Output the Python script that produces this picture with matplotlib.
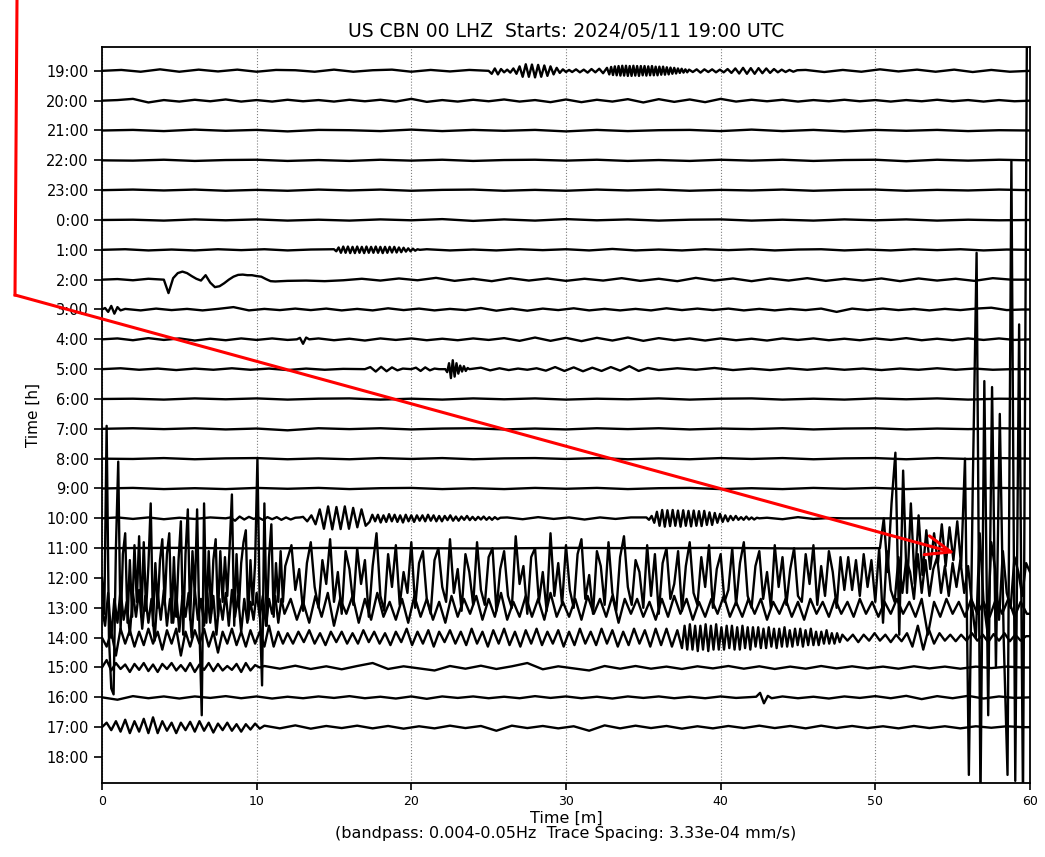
import matplotlib
matplotlib.use("Agg")
import matplotlib.pyplot as plt
from matplotlib.lines import Line2D

# hour labels of the 24 rows (top to bottom)
hours = ["19:00", "20:00", "21:00", "22:00", "23:00", "0:00", "1:00", "2:00",
         "3:00", "4:00", "5:00", "6:00", "7:00", "8:00", "9:00", "10:00",
         "11:00", "12:00", "13:00", "14:00", "15:00", "16:00", "17:00", "18:00"]
minute_ticks = [0, 10, 20, 30, 40, 50, 60]

# each trace: segments of (start minute, sample step in minutes, values in trace-spacing units)
tr_1900 = [
    (0.0, 1.25, [0, 0.03, -0.03, 0.05, -0.03, 0.04, -0.02, 0.04, -0.03, 0.03, 0.02, -0.03, 0.04, -0.03,
                 0.02, 0.04, -0.03, 0.03, -0.02, 0.03]),
    (25.0, 0.2, [0.0, -0.1, 0.08, -0.12, 0.06, -0.05, 0.04, -0.06, 0.08, -0.1, 0.15, -0.2, 0.22, -0.2,
                 0.21, -0.22, 0.2, -0.2, 0.18, -0.17, 0.15, -0.12, 0.1, -0.07, 0.05, -0.04, 0.03]),
    (30.4, 0.25, [-0.04, 0.05, -0.05, 0.04, -0.06, 0.06, -0.05, 0.07, -0.08, 0.1]),
    (32.8, 0.12, [-0.12, 0.13, -0.14, 0.15, -0.15, 0.16, -0.16, 0.17, -0.16, 0.17, -0.17, 0.16, -0.17, 0.17,
                  -0.16, 0.16, -0.17, 0.16, -0.15, 0.16, -0.16, 0.15, -0.15, 0.16, -0.15, 0.14, -0.15, 0.14,
                  -0.13, 0.14, -0.13, 0.12, -0.12, 0.11, -0.1, 0.1, -0.09, 0.08, -0.07, 0.07, -0.06, 0.05,
                  -0.05, 0.04]),
    (38.2, 0.25, [-0.04, 0.05, -0.06, 0.05, -0.04, 0.05, -0.05, 0.04, -0.05, 0.06, -0.07, 0.08, -0.09, 0.1,
                  -0.1, 0.09, -0.1, 0.09, -0.08, 0.08, -0.07, 0.06, -0.05, 0.04, -0.04, 0.03, -0.03, 0.02]),
    (45.5, 1.2, [0.03, -0.04, 0.03, -0.03, 0.05, -0.02, 0.04, -0.03, 0.04, -0.04, 0.03, -0.03, 0.0]),
]
tr_2000 = [
    (0.0, 1.0, [0, 0.02, 0.06, -0.06, 0.02, -0.03, 0.03, -0.02, 0.04, -0.03, 0.02, -0.03, 0.03, -0.02,
                0.02, -0.03, 0.03, -0.02, 0.03, -0.03, 0.06, -0.04, 0.02, -0.03, 0.03, -0.02, 0.04, -0.03,
                0.02, -0.05, 0.04, -0.05, 0.03, -0.03, 0.05, -0.06, 0.05, -0.04, 0.04, -0.05, 0.06, -0.03,
                0.03, -0.02, 0.03, -0.03, 0.02, -0.02, 0.03, -0.02, 0.02, -0.03, 0.02, -0.02, 0.03, -0.02,
                0.02, -0.03, 0.02, -0.02, 0.0]),
]
tr_2100 = [
    (0.0, 2.0, [0, 0.02, -0.02, 0.03, -0.01, 0.02, -0.03, 0.02, 0.01, -0.02, 0.03, -0.02, 0.02, -0.01,
                0.02, -0.03, 0.02, -0.02, 0.01, 0.02, -0.02, 0.03, -0.02, 0.02, -0.03, 0.02, -0.01, 0.02,
                -0.02, 0.01, 0.0]),
]
tr_2200 = [
    (0.0, 2.0, [0, -0.01, 0.02, -0.02, 0.01, 0.02, -0.02, 0.01, -0.02, 0.02, -0.01, 0.02, -0.02, 0.01,
                0.02, -0.01, 0.02, -0.02, 0.01, -0.02, 0.02, -0.01, 0.02, -0.02, 0.01, 0.02, -0.03, 0.02,
                -0.01, 0.02, 0.0]),
]
tr_2300 = [
    (0.0, 2.0, [0, 0.02, -0.01, 0.02, -0.02, 0.01, -0.02, 0.02, -0.01, 0.02, -0.02, 0.01, 0.02, -0.02,
                0.01, -0.02, 0.02, -0.01, 0.02, -0.02, 0.01, -0.01, 0.02, -0.02, 0.01, 0.02, -0.02, 0.01,
                -0.01, 0.02, 0.0]),
]
tr_0000 = [
    (0.0, 2.0, [0, 0.01, -0.02, 0.02, -0.01, 0.02, -0.02, 0.01, -0.02, 0.02, -0.01, 0.03, -0.03, 0.02,
                -0.02, 0.03, -0.01, 0.02, -0.02, 0.01, 0.02, -0.02, 0.01, -0.02, 0.02, -0.01, 0.02, -0.02,
                0.01, -0.01, 0.0]),
]
tr_0100 = [
    (0.0, 1.5, [0, 0.02, -0.02, 0.01, -0.02, 0.02, -0.01, 0.02, -0.02, 0.01]),
    (15.0, 0.15, [0.02, -0.05, 0.08, -0.1, 0.11, -0.1, 0.11, -0.11, 0.1, -0.11, 0.11, -0.1, 0.1, -0.11,
                  0.11, -0.1, 0.1, -0.1, 0.11, -0.1, 0.1, -0.11, 0.1, -0.1, 0.1, -0.09, 0.1, -0.09, 0.08,
                  -0.08, 0.07, -0.06, 0.05, -0.05, 0.04, -0.03, 0.02, 0.0]),
    (21.0, 1.5, [0.02, -0.02, 0.01, -0.02, 0.02, -0.01, 0.02, -0.02, 0.03, -0.02, 0.01, -0.02, 0.02,
                 -0.01, 0.02, -0.02, 0.01, 0.02, -0.02, 0.01, -0.02, 0.02, -0.01, 0.02, -0.02, 0.01, 0.0]),
]
tr_0200 = [
    (0.0, 1.0, [0, 0.02, -0.02, 0.03, 0.0]),
    (4.0, 0.3, [0.0, -0.45, 0.05, 0.22, 0.27, 0.22, 0.12, 0.03, -0.03, 0.15, -0.1, -0.25, -0.22, -0.12,
                0.0, 0.1, 0.16, 0.17, 0.15, 0.15, 0.12, 0.1, 0.02, -0.05, -0.06]),
    (12.0, 1.2, [-0.04, -0.03, -0.05, -0.02, 0.03, -0.03, 0.04, -0.02, 0.06, -0.04, 0.03, -0.05, 0.05,
                 -0.03, 0.04, -0.04, 0.03, -0.03, 0.05, -0.04, 0.03, -0.05, 0.06, -0.03, 0.04, -0.05,
                 0.04, -0.03, 0.05, -0.04, 0.03, -0.03, 0.04, -0.05, 0.04, -0.03, 0.03, -0.04, 0.05, 0.0]),
]
tr_0300 = [
    (0.0, 0.2, [0, 0.05, -0.08, 0.12, -0.14, 0.08, -0.03]),
    (1.5, 1.0, [0.02, -0.03, 0.03, -0.02, 0.02, -0.03, 0.02, 0.08, -0.03, 0.02, -0.02, 0.03, -0.02,
                0.03, -0.03, 0.02, -0.03, 0.04, -0.02, 0.03, -0.03, 0.02, -0.02, 0.05, -0.04, 0.03, -0.04,
                0.03, -0.02, 0.04, -0.03, 0.02, -0.03, 0.02, -0.03, 0.04, -0.02, 0.03, -0.02, 0.03, -0.03,
                0.02, -0.03, 0.02, -0.02, 0.03, -0.08, 0.03, -0.02, 0.03, -0.02, 0.02, -0.03, 0.02,
                -0.02, 0.03, 0.06, -0.02, 0.0]),
]
tr_0400 = [
    (0.0, 1.0, [0, 0.03, -0.03, 0.04, -0.02, 0.03, -0.04, 0.02, -0.03, 0.03, -0.02, 0.03, -0.02]),
    (12.6, 0.2, [0, 0.05, -0.15, 0.06, 0]),
    (14.0, 1.0, [0.03, -0.03, 0.02, -0.04, 0.03, -0.02, 0.03, -0.03, 0.02, -0.03, 0.03, -0.02, 0.04,
                 -0.05, 0.06, -0.05, 0.05, -0.06, 0.05, -0.04, 0.06, -0.05, 0.04, -0.03, 0.03, -0.04,
                 0.03, -0.03, 0.02, -0.04, 0.03, -0.02, 0.03, -0.03, 0.02, -0.03, 0.03, -0.02, 0.04,
                 -0.03, 0.02, -0.03, 0.03, -0.02, 0.03, -0.02, 0.0]),
]
tr_0500 = [
    (0.0, 1.2, [0, 0.03, -0.02, 0.02, -0.03, 0.02, -0.02, 0.03, -0.02, 0.02, -0.03, 0.02, -0.02, 0.01]),
    (17.0, 0.35, [0, 0.07, -0.08, 0.08, -0.07, 0.06, -0.04, 0.02]),
    (20.0, 0.3, [0, 0.05, -0.06, 0.06, -0.04, 0.02, 0.0]),
    (22.2, 0.12, [0, -0.1, 0.2, -0.3, 0.3, -0.25, 0.2, -0.15, 0.12, -0.08, 0.1, -0.06, 0.04, 0]),
    (24.5, 0.6, [0.05, -0.04, 0.03, -0.03, 0.02, -0.02, 0.03, -0.05, 0.07, -0.06, 0.06, -0.07, 0.05,
                 -0.06, 0.07, -0.05, 0.1, -0.06, 0.04]),
    (36.0, 1.2, [-0.03, 0.03, -0.02, 0.04, -0.03, 0.02, -0.03, 0.03, -0.02, 0.03, -0.02, 0.02, -0.03,
                 0.02, -0.02, 0.03, -0.02, 0.02, -0.02, 0.0]),
]
tr_0600 = [
    (0.0, 2.0, [0, 0.01, -0.02, 0.02, -0.01, 0.02, -0.02, 0.01, 0.02, -0.02, 0.01, -0.02, 0.02, -0.01,
                0.02, -0.02, 0.01, -0.01, 0.02, -0.02, 0.01, 0.02, -0.02, 0.01, -0.02, 0.02, -0.01,
                0.02, -0.02, 0.01, 0.0]),
]
tr_0700 = [
    (0.0, 2.0, [0, 0.02, -0.01, 0.02, -0.02, 0.01, -0.05, 0.02, -0.01, 0.02, -0.02, 0.01, 0.02, -0.02,
                0.01, -0.02, 0.02, -0.01, 0.02, -0.02, 0.01, -0.01, 0.02, -0.02, 0.01, 0.02, -0.02,
                0.01, -0.01, 0.02, 0.0]),
]
tr_0800 = [
    (0.0, 2.0, [0, -0.01, 0.02, -0.02, 0.01, 0.02, -0.02, 0.01, -0.02, 0.02, -0.01, 0.02, -0.02, 0.01,
                0.02, -0.01, 0.02, -0.02, 0.01, -0.02, 0.02, -0.01, 0.02, -0.02, 0.01, 0.02, -0.02,
                0.02, -0.01, 0.02, 0.0]),
]
tr_0900 = [
    (0.0, 2.0, [0, 0.02, -0.02, 0.01, -0.02, 0.02, -0.01, 0.02, -0.02, 0.01, 0.02, -0.02, 0.01, -0.02,
                0.02, -0.01, 0.02, -0.02, 0.01, 0.02, -0.02, 0.01, -0.02, 0.02, -0.01, 0.02, -0.02,
                0.01, -0.01, 0.02, 0.0]),
]
tr_1000 = [
    (0.0, 1.0, [0, 0.03, -0.02, 0.03, -0.03, 0.02, -0.02, 0.03]),
    (8.0, 0.3, [0, 0.03, -0.08, 0.06, -0.04, 0.05, -0.02, 0.03, -0.05, 0.04, -0.03, 0.04, -0.05, 0.03,
                -0.04, 0.02, 0.03]),
    (13.0, 0.27, [0.05, -0.1, 0.1, -0.2, 0.3, -0.35, 0.4, -0.37, 0.38, -0.36, 0.4, -0.35, 0.35, -0.3,
                  0.3, -0.25]),
    (17.3, 0.18, [-0.12, 0.12, -0.1, 0.12, -0.14, 0.1, -0.12, 0.14, -0.1, 0.12, -0.12, 0.1, -0.14, 0.12,
                  -0.1, 0.1, -0.12, 0.1, -0.08, 0.1, -0.1, 0.12, -0.08, 0.1, -0.1, 0.08, -0.1, 0.08,
                  -0.06, 0.1, -0.08, 0.06, -0.08, 0.06, -0.05, 0.08, -0.06, 0.05, -0.06, 0.05, -0.04,
                  0.06, -0.05, 0.04, -0.05, 0.04, -0.03, 0.02]),
    (26.2, 1.0, [0.03, -0.03, 0.04, -0.02, 0.03, -0.04, 0.03, -0.02, 0.03]),
    (35.2, 0.17, [0.03, -0.05, 0.08, -0.15, 0.22, -0.25, 0.28, -0.28, 0.27, -0.26, 0.28, -0.25, 0.26,
                  -0.28, 0.27, -0.25, 0.25, -0.27, 0.26, -0.25, 0.24, -0.26, 0.25, -0.22, 0.2, -0.22,
                  0.18, -0.15, 0.15, -0.12, 0.1, -0.1, 0.08, -0.06, 0.08, -0.05, 0.04, -0.05, 0.06,
                  -0.04, 0.03, -0.04, 0.02, 0.0]),
    (43.0, 1.0, [0.02, -0.03, 0.04, -0.02, 0.01]),
    (48.0, 4.0, [0.0, 0.0, 0.0, 0.0]),
]
tr_1100 = [
    (0.0, 5.0, [0, 0.01, -0.01, 0.01, 0.0, -0.01, 0.01, 0.0, 0.01, -0.01, 0.0]),
    (50.3, 0.25, [0.0, 1.0, -0.8, 1.5, 3.2, -2.9, 2.6, -1.5, 1.5, -1.2, 1.1, -0.9, 0.6, -0.7, 0.5, -0.5,
                  0.8, -0.6, 0.7, -0.4, 0.9, -0.6, 3.0, -7.6, 2.0, 9.9, -8.5, 5.6, -5.6, 5.4, -4.0, 4.5,
                  -3.0, -7.6, 13.0, -7.8, 7.5, -8.5, 17.0, 17.0]),
]
tr_1200 = [
    (0.0, 0.15, [0.0, -1.2, 5.1, -2.0, -3.7, -3.9, 1.0, 3.9, -1.8, 0.8, 1.5, -1.5, 0.6, -1.3, 1.1, -0.8,
                 1.4, -1.3, 1.2, -1.1, 0.4, 2.5, -1.6, 0.5, -1.0, 0.6, 1.3, -0.9, 0.8, 1.5, -1.5, 0.7,
                 -1.3, 0.6, 1.9, -1.9, 0.8, 2.3, -1.4, 0.9, -0.6, 2.3, -1.7, -4.6, 2.5, -1.5, 0.9, -1.2,
                 0.6, 1.3, -1.3, 0.9, -0.8, 0.7, -0.6, 1.0, 2.8, -1.6, 0.8, -1.0, 0.5, 1.2, 1.6, -1.4,
                 0.6, -0.9, 0.5, 4.0, -1.0, -3.6, 2.5, -1.6, 0.7, 1.8, -1.3, 0.5, -0.8, 0.9, -0.8, 0.4]),
    (12.25, 0.25, [1.1, -0.4, 0.3, -1.1, 0.5, 1.2, -0.3, -1.0, 0.6, -0.2, 1.3, -0.8, 0.2, -1.2, 0.9, 0.3,
                   -0.9, 1.0, -0.2, 0.6, -1.3, 0.4, 1.5, -0.6, -1.1, 0.8, -0.3, 1.1, -0.9, 0.2, -0.5, 1.2,
                   -1.0, 0.5, 0.9, -0.7, -1.2, 0.6, 1.0, -0.3, -0.8, 1.3, -0.5, 0.3, -1.1, 0.8, 0.2, -0.9,
                   1.2, -0.4, -0.9, 0.7, 1.0, -1.1, 0.3, 0.9, -0.6, -1.0, 1.4, -0.2, 0.4, -1.2, 0.7, 1.0,
                   -0.8, 0.2, -1.1, 1.5, -0.6, 0.5, -0.9, 1.1, -0.4, -1.0, 0.8, 1.3, -0.7, 0.1, -1.2, 0.9,
                   0.4, -0.9, 1.2, -0.5, -1.1, 0.7, 1.4, -0.3, -0.9, 0.6, 0.2, -1.0, 1.1, -0.6, 0.8, -1.2,
                   0.5, 1.0, -0.7, -0.2, 0.9, -1.1, 0.4, 1.2, -0.5, -0.9, 0.7, -0.3, 1.1, -1.0, 0.3, 0.8,
                   -0.8, -0.4, 1.0, -0.9, 0.5, 1.2, -0.6, -1.0, 0.4, 0.9, -0.7, 0.2, -1.0, 1.1, -0.3, 0.7,
                   -0.9, 0.3, 1.0, -0.6, -0.8, 0.8, -0.2, 1.1, -0.9, 0.4, -0.6, 0.9, 0.2, -1.0, 0.7, -0.4,
                   0.7, -0.4, 0.6, -0.6, 0.8, -0.3, 0.6, -0.8, 1.0, -1.5, 0.9, -0.4, -0.8, 0.7, -0.5, 0.6,
                   0.2, -0.7, 0.8, -0.5, 0.6, -0.6, 0.3, 0.7, -0.5, 0.4, -0.6, 0.5, -0.3, 0.6, -0.5, 0.4,
                   -0.9, -2.0, 1.5, -0.8, -1.8, 1.2, 0.3, -1.4, 0.9, -0.5, -1.0, 0.7, 0.2, -0.6, 0.5, 0.2]),
]
tr_1300 = [
    (0.0, 0.2, [0, -0.6, 0.5, -1.0, 0.3, -0.5, 0.6, -0.4, 0.2, -0.9, 0.5, -0.3, 0.6, -0.7, 0.4, -0.5,
                0.3, -1.1, 0.5, -0.4, 0.6, -0.6, 0.3, -0.5, 0.5, -0.8, 0.4, -0.3, 0.5, -1.0, 0.6, -0.4,
                0.3, -0.6, 0.5, -0.5, 0.4, -0.9, 0.3, -0.4, 0.5, -0.6, 0.6, -0.3, 0.4, -0.8, 0.3, -0.5,
                0.2, -0.4, 0.5, -0.3, 0.4, -0.6, 0.3, -0.2, 0.4, -0.5, 0.3, -0.2]),
    (12.2, 0.4, [0.3, -0.4, 0.2, -0.5, 0.4, -0.3, 0.5, -0.6, 0.3, -0.2, 0.4, -0.5, 0.3, -0.4, 0.5, -0.3,
                 0.2, -0.4, 0.3, -0.5, 0.4, -0.3, 0.3, -0.4, 0.2, -0.5, 0.4, -0.3, 0.3, -0.2, 0.4, -0.4,
                 0.3, -0.3, 0.5, -0.4, 0.2, -0.3, 0.4, -0.3, 0.3, -0.4, 0.5, -0.3, 0.2, -0.3, 0.3, -0.4,
                 0.4, -0.2, 0.3, -0.3, 0.4, -0.5, 0.3, -0.2, 0.3, -0.3, 0.2, -0.4, 0.3, -0.3, 0.4, -0.2,
                 0.3, -0.4, 0.2, -0.3, 0.3, -0.2, 0.4, -0.3, 0.2, -0.3, 0.3, -0.2, 0.3, -0.4, 0.2, -0.2,
                 0.3, -0.3, 0.2, -0.4, 0.3, -0.2, 0.2, -0.3, 0.3, -0.2, 0.2, -0.3, 0.3, -0.2, 0.2, -0.3,
                 0.2, -0.2, 0.3, -0.2, 0.2, -0.3, 0.3, -0.9, 0.2, -0.3, 0.3, -0.2, 0.2, -0.3, 0.3, -0.2,
                 0.2, -0.3, 0.3, -0.2, 0.3, -0.3, 0.2, -0.2]),
]
tr_1400 = [
    (0.0, 0.3, [0, -0.3, 0.2, -0.6, 0.3, -0.2, 0.25, -0.3, 0.2, -0.25, 0.3, -0.2, 0.2, -0.4, 0.25, -0.2,
                0.3, -0.6, 0.2, -0.3, 0.25, -0.2, 0.3, -0.3, 0.2, -0.5, 0.2, -0.2, 0.3, -0.25, 0.2, -0.3,
                0.25, -0.2, 0.2, -0.3, 0.4, -0.3, 0.2, -0.2]),
    (12.0, 0.35, [0.15, -0.2, 0.2, -0.15, 0.25, -0.2, 0.15, -0.25, 0.2, -0.15, 0.2, -0.2, 0.15, -0.2,
                  0.25, -0.15, 0.2, -0.2, 0.15, -0.25, 0.2, -0.15, 0.3, -0.25, 0.2, -0.2, 0.25, -0.3,
                  0.2, -0.15, 0.25, -0.2, 0.2, -0.25, 0.3, -0.2, 0.2, -0.3, 0.25, -0.2, 0.3, -0.25, 0.2,
                  -0.3, 0.25, -0.2, 0.3, -0.25, 0.2, -0.2, 0.25, -0.3, 0.2, -0.25, 0.3, -0.2, 0.2, -0.25,
                  0.3, -0.2, 0.25, -0.3, 0.2, -0.25, 0.3, -0.2, 0.25, -0.3, 0.3, -0.25, 0.3, -0.3, 0.25]),
    (37.5, 0.17, [-0.35, 0.4, -0.4, 0.45, -0.4, 0.4, -0.45, 0.4, -0.4, 0.45, -0.45, 0.4, -0.4, 0.45,
                  -0.4, 0.35, -0.4, 0.4, -0.35, 0.4, -0.4, 0.35, -0.4, 0.4, -0.35, 0.35, -0.4, 0.35,
                  -0.3, 0.35, -0.35, 0.3, -0.35, 0.35, -0.3, 0.3, -0.35, 0.3, -0.3, 0.35, -0.3, 0.25,
                  -0.3, 0.3, -0.25, 0.3, -0.3, 0.25, -0.25, 0.3, -0.25, 0.2, -0.25, 0.2, -0.2, 0.25,
                  -0.2, 0.15, -0.2, 0.15, -0.15, 0.1]),
    (48.2, 0.35, [-0.1, 0.1, -0.15, 0.1, -0.1, 0.15, -0.1, 0.1, -0.15, 0.1, -0.12, 0.15, -0.3, 0.4, -0.4,
                  0.3, -0.2, 0.15, -0.1, 0.1, -0.12, 0.1, -0.1, 0.15, -0.1, 0.1, -0.15, 0.12, -0.1, 0.15,
                  -0.12, 0.1, -0.1, 0.05]),
]
tr_1500 = [
    (0.0, 0.3, [0, 0.25, -0.1, 0.15, -0.05, 0.1, -0.15, 0.12, -0.08, 0.15, -0.12, 0.1, -0.15, 0.12,
                -0.05, 0.15, -0.1, 0.08, -0.12, 0.15, -0.15, 0.1, -0.08, 0.15, -0.12, 0.12, -0.1, 0.05,
                -0.08, 0.12, -0.15, 0.15, -0.1, 0.08, 0.0]),
    (10.5, 1.0, [0.05, -0.04, 0.06, -0.05, 0.04, -0.06, 0.05, 0.15, -0.05, 0.04, -0.03, -0.1, 0.05,
                 -0.04, 0.06, -0.05, 0.04, 0.15, -0.06, 0.04, -0.03, -0.1, 0.05, -0.04, 0.05, -0.04,
                 0.03, -0.05, 0.04, -0.03, 0.05, -0.04, 0.04, -0.05, 0.03, -0.04, 0.05, -0.03, 0.04,
                 -0.03, 0.03, -0.04, 0.04, -0.03, 0.03, -0.04, 0.03, -0.02, 0.03, 0.0]),
]
tr_1600 = [
    (0.0, 1.0, [0, -0.08, 0.04, -0.03, 0.03, -0.04, 0.03, -0.02, 0.04, -0.03, 0.03, -0.04, 0.02, -0.03,
                0.03, -0.02, 0.04, -0.03, 0.02, -0.04, 0.03, -0.05, 0.03, -0.02, 0.03, -0.03, 0.02,
                -0.03, 0.04, -0.02, 0.03, -0.03, 0.02, -0.04, 0.03, -0.02, 0.03, -0.03, 0.02, -0.03,
                0.03, -0.02]),
    (42.3, 0.25, [0.02, 0.15, -0.2, 0.05, -0.03]),
    (44.0, 1.0, [0.03, -0.03, 0.02, -0.04, 0.03, -0.02, 0.04, -0.03, 0.05, -0.06, 0.04, -0.03, 0.05,
                 -0.04, 0.03, -0.02, 0.0]),
]
tr_1700 = [
    (0.0, 0.3, [0, 0.15, -0.1, 0.2, -0.15, 0.25, -0.2, 0.2, -0.15, 0.28, -0.2, 0.33, -0.2, 0.2, -0.12,
                0.15, -0.2, 0.15, -0.1, 0.18, -0.15, 0.2, -0.12, 0.15, -0.18, 0.12, -0.1, 0.15, -0.12,
                0.1, -0.15, 0.1, -0.08, 0.12, -0.05]),
    (10.5, 1.0, [0.05, -0.04, 0.06, -0.05, 0.04, -0.03, 0.05, -0.04, 0.04, -0.05, 0.03, -0.04, 0.05,
                 -0.03, 0.04, -0.12, 0.05, -0.03, 0.04, -0.04, 0.03, -0.12, 0.06, -0.04, 0.05, -0.03,
                 0.04, -0.05, 0.03, -0.04, 0.04, -0.03, 0.05, -0.03, 0.04, -0.04, 0.05, -0.03, 0.04,
                 -0.03, 0.03, -0.04, 0.04, -0.03, 0.03, -0.04, 0.03, -0.02, 0.03, 0.0]),
]

traces = [tr_1900, tr_2000, tr_2100, tr_2200, tr_2300, tr_0000, tr_0100, tr_0200,
          tr_0300, tr_0400, tr_0500, tr_0600, tr_0700, tr_0800, tr_0900, tr_1000,
          tr_1100, tr_1200, tr_1300, tr_1400, tr_1500, tr_1600, tr_1700]


def build(segs):
    pts = []
    for t0, dt, vals in segs:
        for k, v in enumerate(vals):
            pts.append((t0 + k * dt, v))
    pts.sort()
    if pts[-1][0] < 60:
        pts.append((60.0, pts[-1][1]))
    return [p[0] for p in pts], [p[1] for p in pts]


fig = plt.figure(figsize=(10.45, 8.57), dpi=100)
ax = fig.add_axes([0.0976, 0.0864, 0.888, 0.8588])

for i, segs in enumerate(traces):
    t, v = build(segs)
    ax.plot(t, [-i + y for y in v], color="black", lw=1.7, zorder=3)

ax.set_xlim(0, 60)
ax.set_ylim(-23.87, 0.8)
ax.set_yticks([-i for i in range(len(hours))])
ax.set_yticklabels(hours, fontsize=10.5)
ax.set_xticks(minute_ticks)
ax.set_xticklabels([str(m) for m in minute_ticks], fontsize=9)
ax.tick_params(axis="y", length=6, width=1.2)
ax.tick_params(axis="x", length=5, width=1.2)
ax.grid(axis="x", linestyle=":", color="gray", lw=0.8)
for s in ax.spines.values():
    s.set_linewidth(1.3)

ax.set_title("US CBN 00 LHZ  Starts: 2024/05/11 19:00 UTC", fontsize=13.5, pad=7)
ax.set_xlabel("Time [m]\n(bandpass: 0.004-0.05Hz  Trace Spacing: 3.33e-04 mm/s)",
              fontsize=11.5, linespacing=1.0, labelpad=2)
ax.set_ylabel("Time [h]", fontsize=11, labelpad=4)

# red annotation drawn over the picture
W, H = 1045, 857
fig.add_artist(Line2D([17 / W, 15 / W], [1.0, 1 - 295 / H], transform=fig.transFigure,
                      color="red", lw=2.2, zorder=10))
ax.annotate("", xy=(955 / W, 1 - 553 / H), xytext=(15 / W, 1 - 295 / H),
            xycoords="figure fraction", textcoords="figure fraction",
            arrowprops=dict(arrowstyle="->,head_length=0.9,head_width=0.35", color="red",
                            lw=2.2, shrinkA=0, shrinkB=0, mutation_scale=20),
            annotation_clip=False, zorder=10)

fig.savefig("out.png", dpi=100)
